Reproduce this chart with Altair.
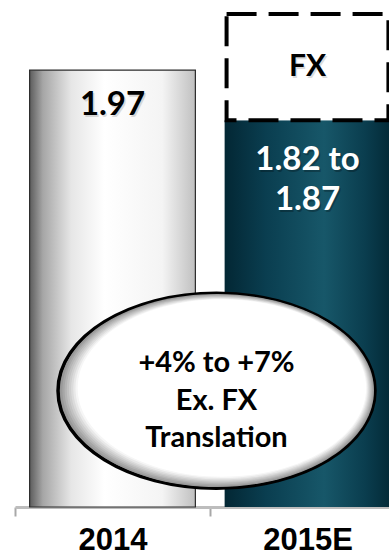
import altair as alt
import pandas as pd

# EPS by year: 2015E is a guidance range
years = ["2014", "2015E"]
eps_low = [1.97, 1.82]
eps_high = [1.97, 1.87]
bar_labels = ["1.97", "1.82 to\n1.87"]

# FX translation headroom on top of the 2015E bar (1.97 x 1.07)
fx_top = 2.11
fx_label = "FX"

# Callout with the constant-currency growth range
callout_text = "+4% to +7%\nEx. FX\nTranslation"
callout_value = 1.17

# Value axis window
axis_min = 0.88
axis_max = 2.145

eps_mid = [(lo + hi) / 2 for lo, hi in zip(eps_low, eps_high)]
df = pd.DataFrame({"year": years, "eps": eps_mid, "label": bar_labels})
fx_df = pd.DataFrame({"year": [years[1]], "top": [fx_top], "bottom": [eps_mid[1]], "label": [fx_label]})
fx_df["mid"] = (fx_df["top"] + fx_df["bottom"]) / 2
callout_df = pd.DataFrame({"year": [years[0]], "value": [callout_value], "label": [callout_text]})

VALUE_FONT = "Lato"
AXIS_FONT = "Liberation Sans"

x_scale = alt.Scale(domain=years, range=[15, 405], paddingInner=0, paddingOuter=0)
y_scale = alt.Scale(domain=[axis_min, axis_max], zero=False, nice=False)

x_axis = alt.Axis(
    title=None,
    labelAngle=0,
    labelFont=AXIS_FONT,
    labelFontSize=31,
    labelFontWeight="bold",
    labelColor="black",
    labelBaseline="alphabetic",
    labelPadding=33,
    domainColor="#bdbdbd",
    domainWidth=3,
    tickColor="#a8a8a8",
    tickWidth=2,
    tickSize=9,
    tickBand="extent",
)

x_enc = alt.X("year:N", scale=x_scale, sort=years, axis=x_axis)
callout_x = alt.X("year:N", scale=x_scale, sort=years, axis=x_axis, bandPosition=1)

gray_fill = alt.LinearGradient(
    gradient="linear",
    x1=0, x2=1, y1=0, y2=0,
    stops=[
        alt.GradientStop(color="#5c5c5c", offset=0),
        alt.GradientStop(color="#a6a6a6", offset=0.08),
        alt.GradientStop(color="#e6e6e6", offset=0.25),
        alt.GradientStop(color="#ffffff", offset=0.45),
        alt.GradientStop(color="#f4f4f4", offset=0.8),
        alt.GradientStop(color="#c0c0c0", offset=1),
    ],
)

teal_fill = alt.LinearGradient(
    gradient="linear",
    x1=0, x2=1, y1=0, y2=0,
    stops=[
        alt.GradientStop(color="#032734", offset=0),
        alt.GradientStop(color="#0a3e50", offset=0.25),
        alt.GradientStop(color="#175769", offset=0.6),
        alt.GradientStop(color="#0a3d4e", offset=0.85),
        alt.GradientStop(color="#032a37", offset=1),
    ],
)

base = alt.Chart(df)
y_eps = alt.Y("eps:Q", scale=y_scale, axis=None)

bar_2014 = base.transform_filter(alt.datum.year == years[0]).mark_bar(
    fill=gray_fill, stroke="#2b2b2b", strokeWidth=1.2,
    width=alt.RelativeBandSize(0.85),
).encode(x=x_enc, y=y_eps, y2=alt.datum(axis_min))

bar_2015 = base.transform_filter(alt.datum.year == years[1]).mark_bar(
    fill=teal_fill, width=alt.RelativeBandSize(0.85),
).encode(x=x_enc, y=y_eps, y2=alt.datum(axis_min))

fx_box = alt.Chart(fx_df).mark_bar(
    fill="white", stroke="black", strokeWidth=4, strokeDash=[30, 12],
    width=alt.RelativeBandSize(0.83),
).encode(x=x_enc, y=alt.Y("top:Q", scale=y_scale, axis=None), y2="bottom:Q")


def soft_text(chart_base, y, color, shadow, size, **kw):
    """Text with a faint drop shadow underneath."""
    sh = chart_base.mark_text(
        font=VALUE_FONT, fontSize=size, fontWeight="bold", color=shadow,
        opacity=0.25, baseline="middle",
        **{k: (v + 1.5 if k in ("dx", "dy") else v) for k, v in kw.items()},
    ).encode(x=x_enc, y=y, text="label:N")
    fg = chart_base.mark_text(
        font=VALUE_FONT, fontSize=size, fontWeight="bold", color=color,
        baseline="middle", **kw,
    ).encode(x=x_enc, y=y, text="label:N")
    return sh + fg


fx_text = soft_text(alt.Chart(fx_df), alt.Y("mid:Q", scale=y_scale, axis=None),
                    "black", "#777777", 30, dx=0, dy=0)

label_2014 = soft_text(base.transform_filter(alt.datum.year == years[0]), y_eps,
                       "black", "#777777", 33, dx=0, dy=35)

label_2015 = soft_text(base.transform_filter(alt.datum.year == years[1]), y_eps,
                       "white", "#000000", 33, dx=0, dy=40, lineBreak="\n", lineHeight=40)

# Callout bubble: an ellipse drawn as stacked, slightly shrinking rings
# that fade from grey to white for a soft inner shade.
ELLIPSE = "M -1 0 A 1 0.615 0 1 1 1 0 A 1 0.615 0 1 1 -1 0 Z"
BUBBLE_D = 317
ring_count = 10
bubble_layers = []
for i in range(ring_count + 1):
    t = i / ring_count
    k = 1 - 0.1 * t
    g = int(round(140 + (255 - 140) * min(1.0, t * 1.15)))
    color = f"#{g:02x}{g:02x}{g:02x}"
    props = dict(
        shape=ELLIPSE,
        size=(BUBBLE_D * k) ** 2,
        filled=True,
        fill=color,
        fillOpacity=1,
        opacity=1,
        strokeWidth=0,
        xOffset=6.5 + 6 * t,
        yOffset=-3 * t,
    )
    if i == 0:
        props.update(stroke="black", strokeWidth=3.5)
    bubble_layers.append(
        alt.Chart(callout_df).mark_point(**props).encode(
            x=callout_x, y=alt.Y("value:Q", scale=y_scale, axis=None)
        )
    )

bubble_text = alt.Chart(callout_df).mark_text(
    font=VALUE_FONT, fontSize=29, fontWeight="bold", color="black",
    baseline="middle", lineBreak="\n", lineHeight=37.5, dy=-27.5, dx=6.5,
).encode(x=callout_x, y=alt.Y("value:Q", scale=y_scale, axis=None), text="label:N")

chart = alt.layer(
    bar_2014, bar_2015, fx_box, fx_text, label_2014, label_2015, *bubble_layers, bubble_text,
).properties(
    width=389,
    height=507,
    padding={"left": 0, "right": 0, "top": 0, "bottom": 49},
    autosize=alt.AutoSizeParams(type="none"),
    background="white",
).configure_view(stroke=None)

chart.save("out.html", embed_options={"renderer": "svg", "actions": False})
